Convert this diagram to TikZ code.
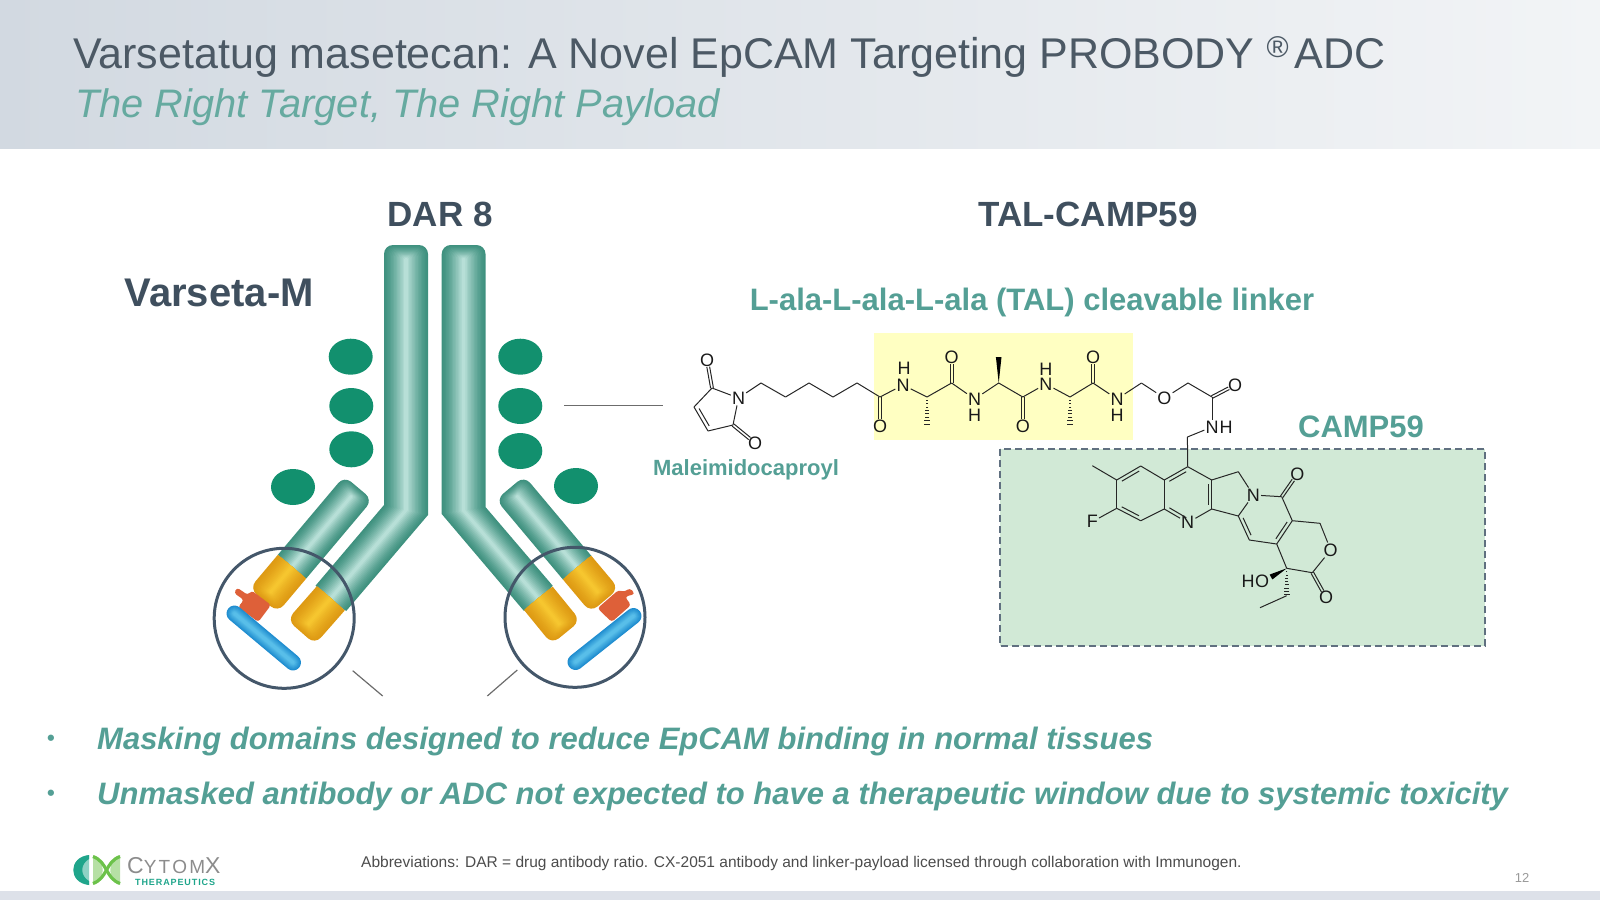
\documentclass[tikz,border=0pt]{standalone}
\usepackage{fontspec}
\setmainfont{Liberation Sans}
\usetikzlibrary{calc,shapes.geometric}

\definecolor{slatetext}{HTML}{3F4F5E}
\definecolor{titletext}{HTML}{4C5965}
\definecolor{tealtext}{HTML}{549F95}
\definecolor{subteal}{HTML}{66AAA0}
\definecolor{tubeedge}{HTML}{3F917F}
\definecolor{tubemid}{HTML}{B7DFD7}
\definecolor{goldedge}{HTML}{DE9A14}
\definecolor{goldmid}{HTML}{F6C62F}
\definecolor{blueedge}{HTML}{1E8CCF}
\definecolor{bluemid}{HTML}{58BEE9}
\definecolor{maskred}{HTML}{DE6039}
\definecolor{domaingreen}{HTML}{12906E}
\definecolor{ringslate}{HTML}{44576A}
\definecolor{linkeryellow}{HTML}{FFFFC2}
\definecolor{payloadgreen}{HTML}{D1E9D6}
\definecolor{headleft}{HTML}{D2D9E1}
\definecolor{headright}{HTML}{F2F4F6}
\definecolor{footbar}{HTML}{DDE1E9}
\definecolor{logoteal}{HTML}{1FA58B}
\definecolor{logogreen}{HTML}{6CC24A}

% straight antibody piece, sharp at its start and rounded at its far end
\newcommand{\capsule}[6]{%
  \begin{scope}[shift={(#1)}, rotate=#2]
    \clip (0,-#4) rectangle (#3+1,#4);
    \foreach \i in {0,...,14}{
      \pgfmathsetmacro{\insw}{\i/14*#4/2*0.92}
      \pgfmathsetmacro{\insl}{\i/14*10}
      \pgfmathsetmacro{\mixp}{100*(\i/14)^1.3}
      \pgfmathsetmacro{\rad}{1+8*(1-\i/14)}
      \fill[#6!\mixp!#5, rounded corners=\rad pt] (-14,-#4/2+\insw) rectangle (#3-\insl,#4/2-\insw);
    }
  \end{scope}}

% bent heavy chain between its left and right edges
\newcommand{\heavychain}[6]{%
  \foreach \i in {0,...,14}{
    \pgfmathsetmacro{\f}{\i/14*0.46}
    \pgfmathsetmacro{\ftop}{\i/14*13}
    \pgfmathsetmacro{\mixp}{100*(\i/14)^1.3}
    \pgfmathsetmacro{\rad}{1+8*(1-\i/14)}
    \fill[tubemid!\mixp!tubeedge] ($(#3)!\f!(#6)$) -- ($(#2)!\f!(#5)$)
      [rounded corners=\rad pt] -- ($(#1)!\f!(#4)+(0,\ftop)$) -- ($(#4)!\f!(#1)+(0,\ftop)$)
      [sharp corners] -- ($(#5)!\f!(#2)$) -- ($(#6)!\f!(#3)$) -- cycle;
  }}

% blue masking bar
\newcommand{\maskbar}[2]{%
  \foreach \i in {0,...,8}{
    \pgfmathsetmacro{\wid}{16-\i*1.6}
    \pgfmathsetmacro{\mixp}{100*\i/8}
    \draw[bluemid!\mixp!blueedge, line width=\wid pt, line cap=round] (#1) -- (#2);
  }}

% chemistry bonds
\newcommand{\dblbond}[2]{%
  \draw[bond, shorten >=7pt] ($(#1)!1.4pt!90:(#2)$) -- ($(#2)!1.4pt!-90:(#1)$);
  \draw[bond, shorten >=7pt] ($(#1)!1.4pt!-90:(#2)$) -- ($(#2)!1.4pt!90:(#1)$);}
\newcommand{\innerbond}[2]{%
  \draw[bond] ($(#1)!.14!(#2)!3.6pt!90:(#2)$) -- ($(#2)!.14!(#1)!3.6pt!-90:(#1)$);}
\newcommand{\hashbond}[2]{%
  \foreach \t in {0.12,0.24,...,1.0}{
    \pgfmathsetmacro{\hw}{0.4+\t*2.6}
    \draw[line width=0.7pt, black!85] ($(#1)!\t!(#2)!\hw pt!90:(#2)$) -- ($(#1)!\t!(#2)!\hw pt!-90:(#2)$);
  }}
\newcommand{\wedgebond}[2]{%
  \fill ($(#1)$) -- ($(#2)!2.8pt!90:(#1)$) -- ($(#2)!2.8pt!-90:(#1)$) -- cycle;}

\begin{document}
\begin{tikzpicture}[
    x=1pt, y=-1pt,
    bond/.style={line width=1pt, black!85},
    atom/.style={inner sep=1pt, text=black!90, font=\fontsize{18}{18}\selectfont},
    heading/.style={text=slatetext, font=\fontsize{35}{35}\selectfont\bfseries},
    tealhead/.style={text=tealtext, font=\fontsize{31}{31}\selectfont\bfseries},
    bullettext/.style={anchor=base west, text=tealtext, font=\fontsize{31}{31}\selectfont\bfseries\itshape},
    bulletmark/.style={text=tealtext, font=\fontsize{22}{22}\selectfont\bfseries},
    fabdomain/.style={ellipse, fill=domaingreen, minimum width=44pt, minimum height=36pt, inner sep=0pt},
    lens/.style={draw=ringslate, line width=3pt, circle, minimum size=140pt, inner sep=0pt},
    thinline/.style={line width=1.2pt, gray!85!black}
]
\useasboundingbox (0,0) rectangle (1600,900);

% Header and footer
\shade[left color=headleft, right color=headright] (0,0) rectangle (1600,148.5);
\fill[footbar] (0,891) rectangle (1600,900);
\node[anchor=base west, inner sep=0pt, text=titletext, font=\fontsize{43}{43}\selectfont] (title) at (73,68)
    {Varsetatug masetecan: A Novel EpCAM Targeting PROBODY \raisebox{11pt}{\fontsize{30}{30}\selectfont ®}\hspace{6pt}ADC};
\node[anchor=base west, inner sep=0pt, text=subteal, font=\fontsize{39.8}{39.8}\selectfont\itshape] (subtitle) at (75,117)
    {The Right Target, The Right Payload};

% Headings
\node[heading] (dar) at (440,214) {DAR 8};
\node[heading] (talcamp) at (1088,214) {TAL-CAMP59};
\node[heading, anchor=west, inner sep=0pt, font=\fontsize{40}{40}\selectfont\bfseries] (varseta) at (124.5,293) {Varseta-M};
\node[tealhead] (linkerlabel) at (1032,302) {L-ala-L-ala-L-ala (TAL) cleavable linker};

% Antibody, left half
\coordinate (la) at (384,245); \coordinate (lb) at (384,505); \coordinate (lc) at (315.5,585.7);
\coordinate (ld) at (428,245); \coordinate (le) at (428,515); \coordinate (lf) at (346.2,611);
\heavychain{la}{lb}{lc}{ld}{le}{lf}
\capsule{330.8,598.3}{-131.3}{45}{37}{goldedge}{goldmid}
\capsule{292,566.7}{49.9}{103}{37}{tubeedge}{tubemid}
\capsule{292,566.7}{-130.1}{44}{37}{goldedge}{goldmid}
\fill[maskred, rounded corners=3pt] (238,607) -- (258.3,622) -- (271,605) -- (251.7,590.5)
    -- (248,595) -- (242,591) -- (237,587.5) -- (234,593) -- (244,600) -- cycle;
\coordinate (lba) at (234.5,613.5); \coordinate (lbb) at (293,662.5);
\maskbar{lba}{lbb}

% Antibody, right half
\coordinate (ra) at (441.7,245); \coordinate (rb) at (441.7,514); \coordinate (rc) at (524,611);
\coordinate (rd) at (485.5,245); \coordinate (re) at (485.5,507); \coordinate (rf) at (552.7,585.7);
\heavychain{ra}{rb}{rc}{rd}{re}{rf}
\capsule{538.3,598.3}{-50.8}{44}{37}{goldedge}{goldmid}
\capsule{577,567.5}{130}{104}{37}{tubeedge}{tubemid}
\capsule{577,567.5}{-50}{43}{37}{goldedge}{goldmid}
\fill[maskred, rounded corners=3pt] (597.5,608.3) -- (611.7,622) -- (631,605) -- (625,596.7)
    -- (635,594) -- (630,588) -- (624,592) -- (618.5,590) -- cycle;
\coordinate (rba) at (575.5,662); \coordinate (rbb) at (633.5,616);
\maskbar{rba}{rbb}

% Domains
\foreach \name/\x/\y in {dla/350.7/356.7, dlb/351.3/406, dlc/351.3/449.3, dld/293/487,
                         dra/520.3/356.7, drb/520.3/406, drc/520.3/451, drd/576/486}
    \node[fabdomain] (\name) at (\x,\y) {};

% Lenses and their lines
\node[lens] (lensl) at (284.2,618.3) {};
\node[lens] (lensr) at (575,617.3) {};
\coordinate (tla) at (352.7,670.7); \coordinate (tlb) at (382.7,696);
\coordinate (tra) at (517.3,670); \coordinate (trb) at (487.3,696);
\coordinate (tma) at (564,405.5); \coordinate (tmb) at (663,405.5);
\draw[thinline] (tla) -- (tlb);
\draw[thinline] (tra) -- (trb);
\draw[thinline] (tma) -- (tmb);

% Boxes behind the molecule
\fill[linkeryellow] (873.5,332.7) rectangle (1133,439.5);
\draw[fill=payloadgreen, draw=ringslate!85, dash pattern=on 7pt off 4pt, line width=1.4pt] (1000,449) rectangle (1485,646);
\node[text=tealtext, font=\fontsize{31}{31}\selectfont\bfseries] (camplabel) at (1361,427) {CAMP59};
\node[text=tealtext, font=\fontsize{22}{22}\selectfont\bfseries] (malabel) at (746,470) {Maleimidocaproyl};

% Linker atoms
\foreach \name/\lab/\x/\y in {mn/N/738.5/398, ma/O/707/360, mb/O/755/443,
    ox1/O/880/426, n1/N/903/385, h1/H/904/368, ox2/O/951.6/357, n2/N/974.6/399, h2/H/974.6/415,
    ox3/O/1022.8/426, n3/N/1045.8/384, h3/H/1045.8/369, ox4/O/1093/357, n4/N/1117/399, h4/H/1117/415,
    ox5/O/1164.4/398, ox6/O/1235/385, n5/N/1212/427, h5/H/1226/427}
    \node[atom] (\name) at (\x,\y) {\lab};
\foreach \name/\x/\y in {mc/712/388, md/694/407, me/708/431, mf/733/425,
    ch1/761/383, ch2/785.5/397, ch3/809/383, ch4/833/397, ch5/857/383, co1/880/397,
    al1/927/397, me1/927/425, co2/951.6/383, al2/998.7/383, me2/998.7/357,
    co3/1022.8/397, al3/1070/397, me3/1070/425, co4/1093/383,
    ch6/1141.4/383, ch7/1188/383, co5/1212/397, ch8/1187.4/437}
    \coordinate (\name) at (\x,\y);
\foreach \a/\b in {mn/mc, mc/md, md/me, me/mf, mf/mn, mn/ch1, ch1/ch2, ch2/ch3, ch3/ch4, ch4/ch5,
    ch5/co1, co1/n1, n1/al1, al1/co2, co2/n2, n2/al2, al2/co3, co3/n3, n3/al3, al3/co4, co4/n4,
    n4/ch6, ch6/ox5, ox5/ch7, ch7/co5, co5/n5, n5/ch8}
    \draw[bond] (\a) -- (\b);
\dblbond{mc}{ma}
\dblbond{mf}{mb}
\innerbond{md}{me}
\dblbond{co1}{ox1}
\dblbond{co2}{ox2}
\dblbond{co3}{ox3}
\dblbond{co4}{ox4}
\dblbond{co5}{ox6}
\hashbond{al1}{me1}
\hashbond{al3}{me3}
\wedgebond{al2}{me2}

% Payload atoms
\foreach \name/\lab/\x/\y in {fa/F/1092.3/521.7, nr/N/1187.7/522.7, nq/N/1253.3/495,
    oa/O/1297.3/474.3, ob/O/1330.7/550, oc/O/1326/597.3, oh/H/1248/581.7, od/O/1262/581.7}
    \node[atom] (\name) at (\x,\y) {\lab};
\foreach \name/\x/\y in {qme/1092.3/465.7, qa1/1116.7/480, qa2/1140.7/466, qa3/1164.3/480,
    qb1/1187.7/466.7, qb2/1211.7/480, qc1/1238.3/471.7, qd1/1281.7/496.7, qd2/1292.3/520.7,
    qe1/1320/523.3, qe2/1312.3/572.7, qq/1286.7/568.3, qd3/1276.7/544, qd4/1249.3/540,
    qd5/1238.3/516, qb3/1211.7/509, qa4/1164.3/509, qa5/1140.7/520.7, qa6/1116.7/508.3,
    et1/1286.7/595.7, et2/1260/607.7, wd/1271/577}
    \coordinate (\name) at (\x,\y);
\foreach \a/\b in {qme/qa1, qa1/qa2, qa2/qa3, qa3/qa4, qa4/qa5, qa5/qa6, qa6/qa1, qa6/fa,
    qa3/qb1, qb1/qb2, qb2/qb3, qb3/nr, nr/qa4, qb2/qc1, qc1/nq, nq/qd1, nq/qd5, qb3/qd5,
    qd5/qd4, qd4/qd3, qd3/qd2, qd2/qd1, qd2/qe1, qe1/ob, ob/qe2, qe2/qq, qq/qd3, et1/et2, ch8/qb1}
    \draw[bond] (\a) -- (\b);
\innerbond{qa2}{qa1}
\innerbond{qa6}{qa5}
\innerbond{qb1}{qa3}
\innerbond{qa4}{nr}
\innerbond{qb3}{qb2}
\innerbond{qd5}{qd4}
\innerbond{qd3}{qd2}
\dblbond{qd1}{oa}
\dblbond{qe2}{oc}
\hashbond{qq}{et1}
\wedgebond{qq}{wd}

% Bullets
\node[bulletmark] (bula) at (51,740) {•};
\node[bulletmark] (bulb) at (51,795) {•};
\node[bullettext, inner sep=0pt] (txta) at (97,749) {Masking domains designed to reduce EpCAM binding in normal tissues};
\node[bullettext, inner sep=0pt] (txtb) at (97,804) {Unmasked antibody or ADC not expected to have a therapeutic window due to systemic toxicity};

% Footer texts
\node[anchor=base west, inner sep=0pt, text=black!70, font=\fontsize{15.5}{15.5}\selectfont] (abbr) at (361,867)
    {Abbreviations: DAR = drug antibody ratio. CX-2051 antibody and linker-payload licensed through collaboration with Immunogen.};
\node[text=black!40, font=\fontsize{13}{13}\selectfont] (pagenum) at (1522,877.5) {12};

% Logo
\fill[logoteal!50] (89,855) .. controls (70,860) and (70,880) .. (89,885) -- cycle;
\fill[logoteal] (89,855) .. controls (68,857) and (68,883) .. (89,885) -- (89,881) .. controls (80,876) and (80,864) .. (89,859) -- cycle;
\fill[logogreen!50] (93,855) .. controls (106,862) and (106,878) .. (93,885) -- cycle;
\fill[logogreen!50] (120,855) .. controls (107,862) and (107,878) .. (120,885) -- cycle;
\draw[logogreen, line width=3.2pt] (93,856.5) .. controls (108,862) and (105,878) .. (120,883.5);
\draw[logogreen, line width=3.2pt] (120,856.5) .. controls (105,862) and (108,878) .. (93,883.5);
\node[anchor=base west, inner sep=0pt, text=black!45, font=\fontsize{23}{23}\selectfont\addfontfeature{LetterSpace=6}] (logoname) at (127,873)
    {C{\fontsize{19}{19}\selectfont\addfontfeature{LetterSpace=12} YTOM}X};
\node[anchor=base west, inner sep=0pt, text=logoteal, font=\fontsize{9}{9}\selectfont\bfseries\addfontfeature{LetterSpace=10}] (logosub) at (135,885)
    {THERAPEUTICS};
\end{tikzpicture}
\end{document}
